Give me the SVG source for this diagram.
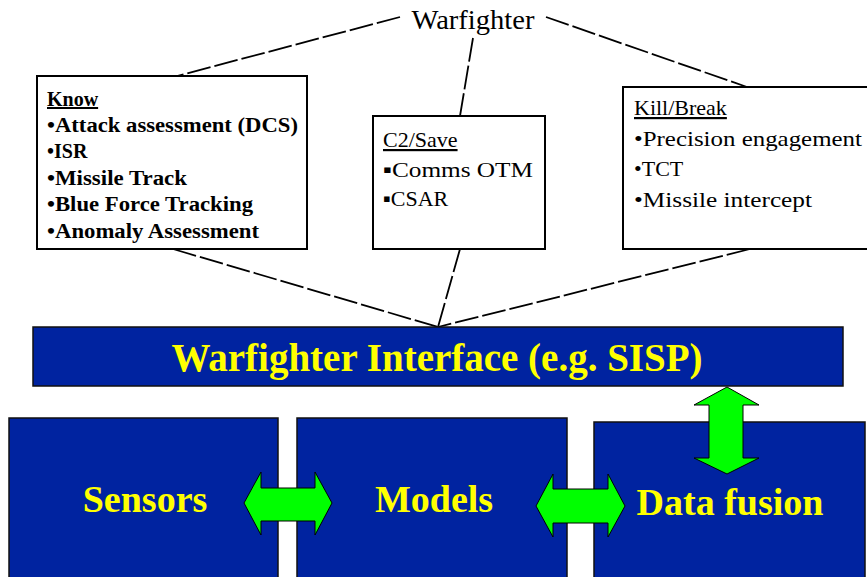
<svg xmlns="http://www.w3.org/2000/svg" width="867" height="577" viewBox="0 0 867 577">
<style>
.box{fill:#fff;stroke:#000;stroke-width:2}
.blue{fill:#0023A0;stroke:#111;stroke-width:1.5}
.t{font-family:"Liberation Serif","Times New Roman",serif;fill:#000}
.b{font-weight:bold}
.u{text-decoration:underline}
.y{font-family:"Liberation Serif","Times New Roman",serif;font-weight:bold;fill:#FFFF00;text-anchor:middle}
.ln{fill:none;stroke:#000;stroke-width:1.8;stroke-dasharray:24,4}
.arr{fill:#00FF00;stroke:#000;stroke-width:1}
</style>
<rect width="867" height="577" fill="#fff"/>
<g id="connectors">
<line class="ln" x1="400" y1="17" x2="177" y2="76"/>
<line class="ln" x1="473" y1="38" x2="460" y2="116"/>
<line class="ln" x1="546" y1="17" x2="747" y2="87"/>
<line class="ln" x1="173" y1="249" x2="438" y2="327"/>
<line class="ln" x1="460" y1="249" x2="438" y2="327"/>
<line class="ln" x1="750" y1="249" x2="438" y2="327"/>
</g>
<g id="warfighter">
<text class="t" x="473" y="29" font-size="27" text-anchor="middle" textLength="123" lengthAdjust="spacingAndGlyphs">Warfighter</text>
</g>
<g id="know">
<rect class="box" x="37" y="76" width="270" height="173"/>
<text class="t b u" x="47" y="106" font-size="20">Know</text>
<text class="t b" x="47" y="132" font-size="20" textLength="251" lengthAdjust="spacingAndGlyphs">•Attack assessment (DCS)</text>
<text class="t b" x="47" y="158" font-size="20">•ISR</text>
<text class="t b" x="47" y="185" font-size="20" textLength="140" lengthAdjust="spacingAndGlyphs">•Missile Track</text>
<text class="t b" x="47" y="211" font-size="20" textLength="206" lengthAdjust="spacingAndGlyphs">•Blue Force Tracking</text>
<text class="t b" x="47" y="238" font-size="20" textLength="212" lengthAdjust="spacingAndGlyphs">•Anomaly Assessment</text>
</g>
<g id="c2save">
<rect class="box" x="373" y="116" width="172" height="133"/>
<text class="t u" x="383" y="147" font-size="22">C2/Save</text>
<text class="t" x="383" y="177" font-size="22" textLength="150" lengthAdjust="spacingAndGlyphs">▪Comms OTM</text>
<text class="t" x="383" y="206" font-size="22">▪CSAR</text>
</g>
<g id="killbreak">
<rect class="box" x="623" y="87" width="250" height="162"/>
<text class="t u" x="634" y="115" font-size="22">Kill/Break</text>
<text class="t" x="634" y="146" font-size="22" textLength="228" lengthAdjust="spacingAndGlyphs">•Precision engagement</text>
<text class="t" x="634" y="176" font-size="22">•TCT</text>
<text class="t" x="634" y="207" font-size="22" textLength="178" lengthAdjust="spacingAndGlyphs">•Missile intercept</text>
</g>
<g id="interface">
<rect class="blue" x="33" y="327" width="810" height="59"/>
<text class="y" x="437" y="371" font-size="39">Warfighter Interface (e.g. SISP)</text>
</g>
<g id="sensors">
<rect class="blue" x="9" y="418" width="269" height="165"/>
<text class="y" x="145" y="512" font-size="38">Sensors</text>
</g>
<g id="models">
<rect class="blue" x="297" y="418" width="270" height="165"/>
<text class="y" x="434" y="512" font-size="38">Models</text>
</g>
<g id="datafusion">
<rect class="blue" x="594" y="422" width="271" height="165"/>
<text class="y" x="730" y="515" font-size="38">Data fusion</text>
</g>
<g id="arrows">
<polygon class="arr" points="244,503 261,472 261,488 315,488 315,472 332,503 315,535 315,521 261,521 261,535"/>
<polygon class="arr" points="536,506 553,474 553,489 608,489 608,474 625,506 608,537 608,523 553,523 553,537"/>
<polygon class="arr" points="727,387 759,405 743,405 743,458 759,458 727,474 694,458 709,458 709,405 694,405"/>
</g>
</svg>
